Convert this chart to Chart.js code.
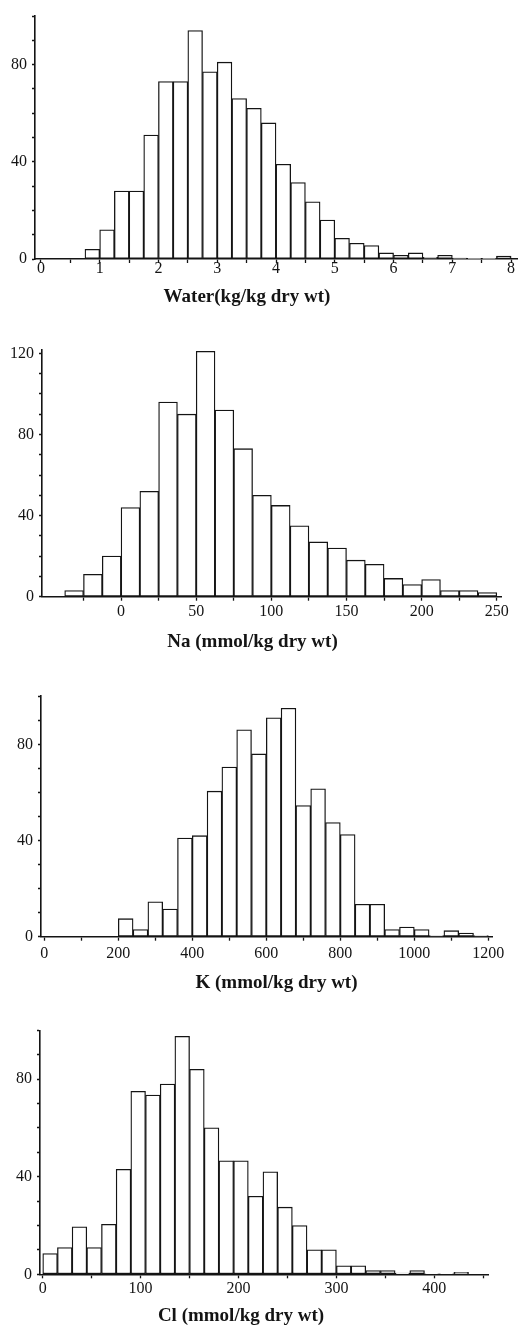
<!DOCTYPE html>
<html>
<head>
<meta charset="utf-8">
<script src="https://cdn.jsdelivr.net/npm/chart.js@4.4.1/dist/chart.umd.min.js"></script>
<style>
  html, body { margin: 0; padding: 0; background: #fff; }
  body { width: 519px; height: 1331px; position: relative; overflow: hidden; }
  canvas { position: absolute; left: 0; }
</style>
</head>
<body>
<canvas id="c1" width="519" height="308" style="top:0px"></canvas>
<canvas id="c2" width="519" height="343" style="top:310px"></canvas>
<canvas id="c3" width="519" height="339" style="top:655px"></canvas>
<canvas id="c4" width="519" height="333" style="top:997px"></canvas>
<script>
// ---------- DATA ----------
// Water (kg/kg dry wt): bin lower edges, bin width 0.25
const waterBinStarts = [0.75, 1.0, 1.25, 1.5, 1.75, 2.0, 2.25, 2.5, 2.75, 3.0, 3.25, 3.5, 3.75, 4.0, 4.25, 4.5, 4.75, 5.0, 5.25, 5.5, 5.75, 6.0, 6.25, 6.5, 6.75, 7.0, 7.25, 7.5, 7.75];
const waterBinWidth = 0.25;
const waterCounts = [4, 12, 28, 28, 51, 73, 73, 94, 77, 81, 66, 62, 56, 39, 31.5, 23.5, 16, 8.5, 6.5, 5.5, 2.5, 1.5, 2.5, 0.7, 1.5, 0.4, 0.3, 0.3, 1.2];
const waterXTicks = [0, 0.5, 1, 1.5, 2, 2.5, 3, 3.5, 4, 4.5, 5, 5.5, 6, 6.5, 7, 7.5, 8];
const waterXLabels = [0, 1, 2, 3, 4, 5, 6, 7, 8];

// Na (mmol/kg dry wt): bin lower edges, bin width 12.5
const naBinStarts = [-37.5, -25, -12.5, 0, 12.5, 25, 37.5, 50, 62.5, 75, 87.5, 100, 112.5, 125, 137.5, 150, 162.5, 175, 187.5, 200, 212.5, 225, 237.5];
const naBinWidth = 12.5;
const naCounts = [3, 11, 20, 44, 52, 96, 90, 121, 92, 73, 50, 45, 35, 27, 24, 18, 16, 9, 6, 8.5, 3, 3, 2];
const naXTicks = [-25, 0, 25, 50, 75, 100, 125, 150, 175, 200, 225, 250];
const naXLabels = [0, 50, 100, 150, 200, 250];

// K (mmol/kg dry wt): bin lower edges, bin width 40
const kBinStarts = [200, 240, 280, 320, 360, 400, 440, 480, 520, 560, 600, 640, 680, 720, 760, 800, 840, 880, 920, 960, 1000, 1040, 1080, 1120, 1160];
const kBinWidth = 40;
const kCounts = [7.5, 3, 14.5, 11.5, 41, 42, 60.5, 70.5, 86, 76, 91, 95, 54.5, 61.5, 47.5, 42.5, 13.5, 13.5, 3, 4, 3, 0.5, 2.5, 1.5, 0.5];
const kXTicks = [0, 100, 200, 300, 400, 500, 600, 700, 800, 900, 1000, 1100, 1200];
const kXLabels = [0, 200, 400, 600, 800, 1000, 1200];

// Cl (mmol/kg dry wt): bin lower edges, bin width 15
const clBinStarts = [0, 15, 30, 45, 60, 75, 90, 105, 120, 135, 150, 165, 180, 195, 210, 225, 240, 255, 270, 285, 300, 315, 330, 345, 360, 375, 390, 405, 420];
const clBinWidth = 15;
const clCounts = [8.5, 11, 19.5, 11, 20.5, 43, 75, 73.5, 78, 97.5, 84, 60, 46.5, 46.5, 32, 42, 27.5, 20, 10, 10, 3.5, 3.5, 1.5, 1.5, 0.5, 1.5, 0.2, 0.2, 0.8];
const clXTicks = [0, 50, 100, 150, 200, 250, 300, 350, 400, 450];
const clXLabels = [0, 100, 200, 300, 400];

// Y axis ticks (frequency)
const yTicks100 = [0, 10, 20, 30, 40, 50, 60, 70, 80, 90, 100];
const yTicks120 = [0, 10, 20, 30, 40, 50, 60, 70, 80, 90, 100, 110, 120];
const yLabels100 = [0, 40, 80];
const yLabels120 = [0, 40, 80, 120];

const titles = ['Water(kg/kg dry wt)', 'Na (mmol/kg dry wt)', 'K (mmol/kg dry wt)', 'Cl (mmol/kg dry wt)'];

// ---------- DRAWING ----------
const INK = '#141414';
const SERIF = '"Liberation Serif", "DejaVu Serif", serif';
const TICK_FONT = { family: SERIF, size: 16 };

// Draws the x-axis caption below each histogram (real canvas text)
const captionPlugin = {
  id: 'axisCaption',
  afterDraw(chart, args, opts) {
    const ctx = chart.ctx;
    ctx.save();
    ctx.font = 'bold 19px ' + SERIF;
    ctx.fillStyle = INK;
    ctx.textAlign = 'center';
    ctx.textBaseline = 'alphabetic';
    ctx.fillText(opts.text, opts.cx, opts.baseline);
    ctx.restore();
  }
};

function makeHist(id, cfg) {
  const points = cfg.starts.map((s, i) => ({ x: s + cfg.width / 2, y: cfg.counts[i] }));
  new Chart(document.getElementById(id), {
    type: 'bar',
    data: {
      datasets: [{
        data: points,
        backgroundColor: '#ffffff',
        borderColor: INK,
        borderWidth: 1.3,
        borderSkipped: false,
        barPercentage: 1.0,
        categoryPercentage: 1.0
      }]
    },
    plugins: [captionPlugin],
    options: {
      responsive: false,
      devicePixelRatio: 1,
      animation: false,
      events: [],
      layout: { padding: { top: cfg.padTop, right: cfg.padRight, left: 0, bottom: 0 } },
      plugins: {
        legend: { display: false },
        tooltip: { enabled: false },
        axisCaption: { text: cfg.title, cx: cfg.titleX, baseline: cfg.titleBaseline }
      },
      scales: {
        x: {
          type: 'linear',
          offset: false,
          min: cfg.xMin,
          max: cfg.xMax,
          afterFit: s => { s.height = cfg.xHeight; },
          afterBuildTicks: s => { s.ticks = cfg.xTicks.map(v => ({ value: v })); },
          ticks: {
            autoSkip: false,
            maxRotation: 0,
            padding: cfg.xTickPad,
            color: INK,
            font: TICK_FONT,
            callback: v => cfg.xLabels.includes(v) ? String(v) : ''
          },
          grid: { offset: false, drawOnChartArea: false, drawTicks: true, tickLength: 4, color: INK, tickWidth: 1.3 },
          border: { display: true, color: INK, width: 1.6 },
          title: { display: false }
        },
        y: {
          min: 0,
          max: cfg.yMax,
          afterFit: s => { s.width = cfg.axisX; },
          afterBuildTicks: s => { s.ticks = cfg.yTicks.map(v => ({ value: v })); },
          ticks: {
            autoSkip: false,
            padding: 5,
            color: INK,
            font: TICK_FONT,
            callback: v => cfg.yLabels.includes(v) ? String(v) : ''
          },
          grid: { drawOnChartArea: false, drawTicks: true, tickLength: 3, color: INK, tickWidth: 1.3 },
          border: { display: true, color: INK, width: 1.6 }
        }
      }
    }
  });
}

makeHist('c1', {
  starts: waterBinStarts, width: waterBinWidth, counts: waterCounts,
  xTicks: waterXTicks, xLabels: waterXLabels, yTicks: yTicks100, yLabels: yLabels100,
  xMin: -0.1, xMax: 8.1, yMax: 100, title: titles[0],
  axisX: 35, padTop: 16, padRight: 2, xHeight: 49, xTickPad: -4,
  titleX: 247, titleBaseline: 301.5
});
makeHist('c2', {
  starts: naBinStarts, width: naBinWidth, counts: naCounts,
  xTicks: naXTicks, xLabels: naXLabels, yTicks: yTicks120, yLabels: yLabels120,
  xMin: -52.6, xMax: 253, yMax: 122, title: titles[1],
  axisX: 42, padTop: 39.3, padRight: 17.7, xHeight: 56.3, xTickPad: 1,
  titleX: 252.5, titleBaseline: 336.5
});
makeHist('c3', {
  starts: kBinStarts, width: kBinWidth, counts: kCounts,
  xTicks: kXTicks, xLabels: kXLabels, yTicks: yTicks100, yLabels: yLabels100,
  xMin: -8.9, xMax: 1210, yMax: 100, title: titles[2],
  axisX: 41, padTop: 41.2, padRight: 27, xHeight: 57.3, xTickPad: 3,
  titleX: 276.5, titleBaseline: 333.3
});
makeHist('c4', {
  starts: clBinStarts, width: clBinWidth, counts: clCounts,
  xTicks: clXTicks, xLabels: clXLabels, yTicks: yTicks100, yLabels: yLabels100,
  xMin: -2.8, xMax: 455, yMax: 100, title: titles[3],
  axisX: 40, padTop: 33.3, padRight: 30.9, xHeight: 55.7, xTickPad: 1,
  titleX: 241, titleBaseline: 324.3
});
</script>
</body>
</html>
